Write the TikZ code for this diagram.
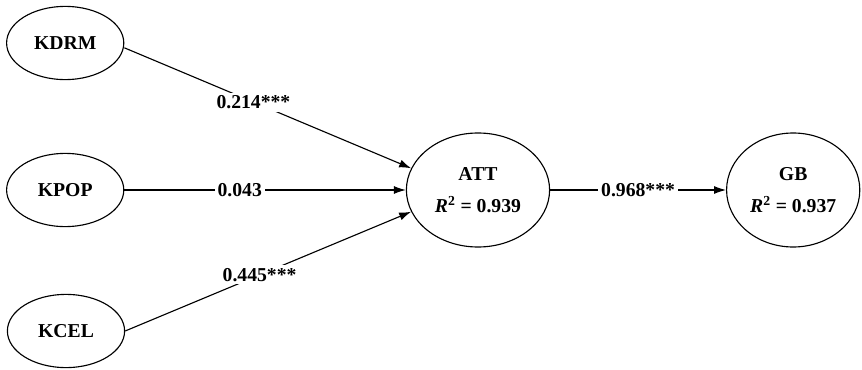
\documentclass[tikz,border=0pt]{standalone}
\usepackage{fontspec}
\setmainfont{Liberation Serif}
\usetikzlibrary{shapes.geometric, arrows.meta}

\begin{document}
\begin{tikzpicture}[
    construct/.style={draw, thick, ellipse, inner sep=0pt, font=\fontsize{14}{16}\selectfont\bfseries},
    path/.style={thick, -{Latex[length=3mm, width=2mm]}},
    coef/.style={fill=white, inner sep=2pt, font=\fontsize{14}{16}\selectfont\bfseries}
]
        \useasboundingbox (0,0) rectangle (21.55,9.225);

        % Exogenous constructs
        \node[construct, minimum width=2.93cm, minimum height=1.83cm] (kdrm) at (1.63,8.15) {KDRM};
        \node[construct, minimum width=2.93cm, minimum height=1.83cm] (kpop) at (1.63,4.475) {KPOP};
        \node[construct, minimum width=2.93cm, minimum height=1.83cm] (kcel) at (1.65,0.95) {KCEL};

        % Endogenous constructs
        \node[construct, align=center, minimum width=3.58cm, minimum height=2.85cm] (att) at (11.95,4.475)
            {ATT\\[7pt]\textit{R}\textsuperscript{2} = 0.939};
        \node[construct, align=center, minimum width=3.33cm, minimum height=2.85cm] (gb) at (19.83,4.475)
            {GB\\[7pt]\textit{R}\textsuperscript{2} = 0.937};

        % Paths
        \draw[path] (kdrm.east) ++(0,-0.12) coordinate (kdrmout) (kdrmout) -- node[coef, pos=0.45] {0.214***} (att.162);
        \draw[path] (kpop) -- node[coef, pos=0.41] {0.043} (att);
        \draw[path] (kcel.east) coordinate (kcelout) -- node[coef, pos=0.47] {0.445***} (att.198);
        \draw[path] (att) -- node[coef] {0.968***} (gb);
    \end{tikzpicture}
\end{document}
